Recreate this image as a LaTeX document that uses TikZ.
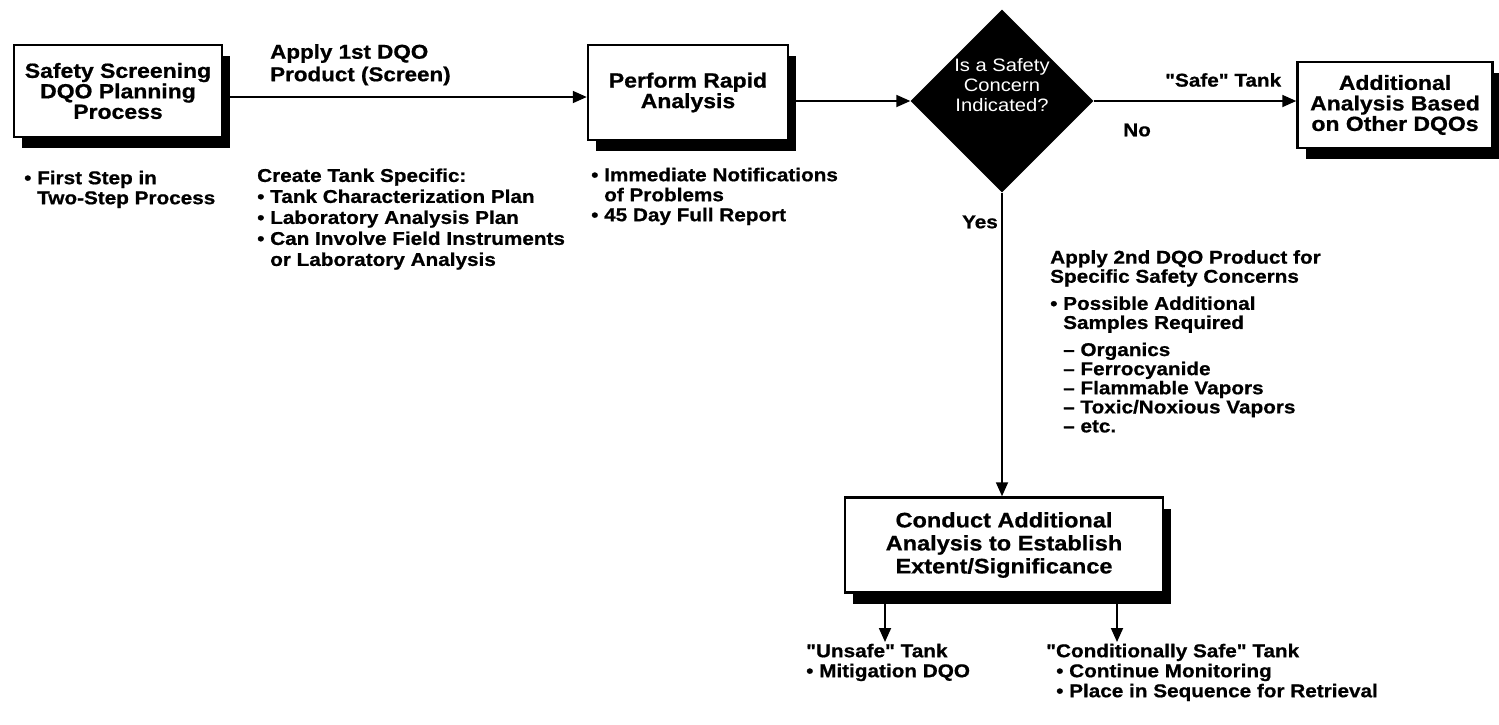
\documentclass[tikz,border=0pt]{standalone}
\usepackage{fontspec}
\setmainfont{Liberation Sans}[FakeStretch=1.12, Ligatures=TeXOff, BoldFeatures={FakeBold=0.8}]
\usetikzlibrary{arrows.meta,shapes.geometric,calc,shadows}
\begin{document}
\begin{tikzpicture}[x=1pt,y=-1pt,
  boxfont/.style={font=\bfseries\fontsize{20.5}{20.5}\selectfont},
  txt/.style={font=\bfseries\fontsize{18.5}{20}\selectfont, inner sep=0pt},
  box/.style={draw, line width=2.5pt, fill=white, align=center, boxfont, inner sep=0pt,
     drop shadow={shadow xshift=8pt, shadow yshift=-11pt, opacity=1, fill=black}},
  dia/.style={diamond, fill=black, aspect=1, inner sep=0pt, minimum width=183pt, minimum height=183pt},
  arr/.style={line width=1.8pt, -{Triangle[length=14pt,width=12pt]}}
]
\useasboundingbox (0,0) rectangle (1499,724);
\node[box, minimum width=208pt, minimum height=92pt] (b1) at (118,91) {Safety Screening\\DQO Planning\\Process};
\node[box, minimum width=200pt, minimum height=95pt] (b2) at (688,92.5) {Perform Rapid\\Analysis};
\node[dia] (d) at (1002,101) {};
\node[font=\fontsize{18}{20}\selectfont, text=white, align=center] (dt) at (1002,85) {Is a Safety\\Concern\\Indicated?};
\node[box, minimum width=195pt, minimum height=86pt] (b3) at (1395,105) {Additional\\Analysis Based\\on Other DQOs};
\node[box, minimum width=318pt, minimum height=95pt, font=\bfseries\fontsize{21}{23}\selectfont] (b4) at (1004,545) {Conduct Additional\\Analysis to Establish\\Extent/Significance};

\coordinate (r1) at (0,97);
\coordinate (u1) at (885,642);
\coordinate (u2) at (1117,642);
\draw[arr] (b1.east |- r1) -- (b2.west |- r1);
\draw[arr] (b2.east |- d.west) -- (d.west);
\draw[arr] (d.east) -- (b3.west |- d.east);
\draw[arr] (d.south) -- (b4.north -| d.south);
\draw[arr] (b4.south -| u1) -- (u1);
\draw[arr] (b4.south -| u2) -- (u2);

\node[txt, font=\bfseries\fontsize{20}{22.5}\selectfont, anchor=north west, align=left] (l1) at (270,44) {Apply 1st DQO\\Product (Screen)};
\node[txt, anchor=west] (l2) at (1165,80) {"Safe" Tank};
\node[txt, anchor=west] (l3) at (1123,130) {No};
\node[txt, anchor=east] (l4) at (998,222) {Yes};

\node[txt, anchor=north west] (t1) at (24,170) {\begin{tabular}{@{}l@{\ }l@{}}\textbullet & First Step in\\ & Two-Step Process\end{tabular}};
\node[txt, font=\bfseries\fontsize{18.5}{21}\selectfont, anchor=north west] (t2) at (257,167) {\begin{tabular}{@{}l@{\ }l@{}}\multicolumn{2}{@{}l@{}}{Create Tank Specific:}\\ \textbullet & Tank Characterization Plan\\ \textbullet & Laboratory Analysis Plan\\ \textbullet & Can Involve Field Instruments\\ & or Laboratory Analysis\end{tabular}};
\node[txt, anchor=north west] (t3) at (591,167) {\begin{tabular}{@{}l@{\ }l@{}}\textbullet & Immediate Notifications\\ & of Problems\\ \textbullet & 45 Day Full Report\end{tabular}};
\node[txt, font=\bfseries\fontsize{18.5}{19}\selectfont, anchor=north west] (t4) at (1050,250) {\begin{tabular}{@{}l@{\ }l@{}}\multicolumn{2}{@{}l@{}}{Apply 2nd DQO Product for}\\ \multicolumn{2}{@{}l@{}}{Specific Safety Concerns}\\[8pt] \textbullet & Possible Additional\\ & Samples Required\\[8pt] & – Organics\\ & – Ferrocyanide\\ & – Flammable Vapors\\ & – Toxic/Noxious Vapors\\ & – etc.\end{tabular}};
\node[txt, anchor=north west] (t5) at (806,643) {\begin{tabular}{@{}l@{\ }l@{}}\multicolumn{2}{@{}l@{}}{"Unsafe" Tank}\\ \textbullet & Mitigation DQO\end{tabular}};
\node[txt, anchor=north west] (t6) at (1046,643) {\begin{tabular}{@{\hspace{10pt}}l@{\ }l@{}}\multicolumn{2}{@{}l@{}}{"Conditionally Safe" Tank}\\ \textbullet & Continue Monitoring\\ \textbullet & Place in Sequence for Retrieval\end{tabular}};
\end{tikzpicture}
\end{document}
